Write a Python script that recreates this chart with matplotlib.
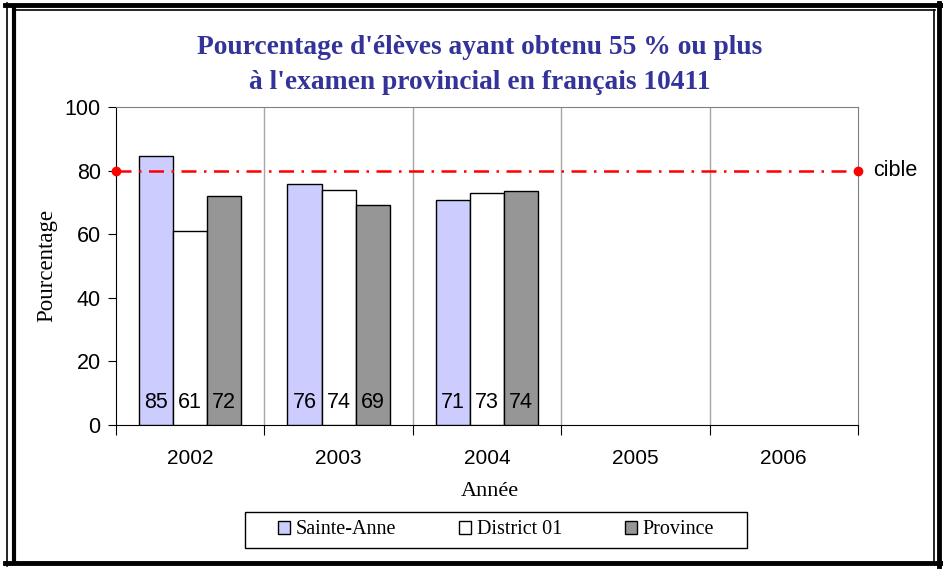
import numpy as np
import matplotlib
matplotlib.use("Agg")
import matplotlib.pyplot as plt
from matplotlib.patches import Rectangle, Patch
from matplotlib.lines import Line2D
from matplotlib.ticker import FixedLocator

# data
years = ["2002", "2003", "2004", "2005", "2006"]
sainte_anne = [84.6, 75.9, 70.6]
district = [61.1, 73.9, 73.1]
province = [71.9, 69.1, 73.6]
series_names = ["Sainte-Anne", "District 01", "Province"]
cible = 80

serif = "Liberation Serif"
sans = "Liberation Sans"

fig = plt.figure(figsize=(9.43, 5.69), dpi=100)
W, H = 943, 569


def frame_line(x0, y0, x1, y1, lw):
    # pixel coords, origin top-left
    fig.add_artist(Line2D([x0 / W, x1 / W], [1 - y0 / H, 1 - y1 / H],
                          transform=fig.transFigure, color="black", linewidth=lw))


# double border around the chart
frame_line(7, 3, 7, 566, 1.2)
frame_line(13.5, 9, 13.5, 563, 3)
frame_line(5, 4.5, 941, 4.5, 3.5)
frame_line(13, 10, 935, 10, 1.2)
frame_line(934, 10, 934, 562, 1.2)
frame_line(939, 3, 939, 566, 3.5)
frame_line(5, 563, 941, 563, 3.5)

ax = fig.add_axes([116 / W, 1 - 425 / H, 742 / W, 318 / H])

x = np.arange(len(sainte_anne))
bw = 0.23
colors = ["#ccccff", "white", "#969696"]
for i, vals in enumerate([sainte_anne, district, province]):
    xs = x + (i - 1) * bw
    ax.bar(xs, vals, width=bw, color=colors[i], edgecolor="black", linewidth=1.0,
           label=series_names[i], zorder=3)
    for xx, v in zip(xs, vals):
        ax.text(xx, 7, f"{v:.0f}", ha="center", va="center", fontsize=15.5,
                family=sans, zorder=4)

# target line
ax.plot([-0.5, len(years) - 0.5], [cible, cible], color="red", linestyle=(0, (6, 3, 1, 3)),
        linewidth=1.8, marker="o", markersize=6, clip_on=False, zorder=5)
ax.text(len(years) - 0.5 + 0.1, cible, "cible", ha="left", va="center", fontsize=15.5,
        family=sans)

ax.set_xlim(-0.5, len(years) - 0.5)
ax.set_ylim(0, 100)
ax.set_yticks(np.arange(0, 101, 20))
ax.tick_params(axis="y", direction="out", length=6, labelsize=15.5, pad=5)
for lab in ax.get_yticklabels():
    lab.set_family(sans)

ax.xaxis.set_major_locator(FixedLocator(np.arange(-0.5, len(years), 1)))
ax.xaxis.set_minor_locator(FixedLocator(np.arange(len(years))))
ax.set_xticklabels([], minor=False)
ax.set_xticklabels(years, minor=True, family=sans, fontsize=15)
ax.tick_params(axis="x", which="major", direction="out", length=7)
ax.tick_params(axis="x", which="minor", length=0, pad=17)

for b in np.arange(0.5, len(years) - 1, 1):
    ax.axvline(b, color="#a6a6a6", linewidth=1, zorder=1)
ax.spines["top"].set_color("#808080")
ax.spines["right"].set_color("#808080")

fig.text(480 / W, 1 - 48 / H, "Pourcentage d'élèves ayant obtenu 55 % ou plus",
         ha="center", va="center", fontsize=19.8, fontweight="bold", family=serif, color="#333399")
fig.text(480 / W, 1 - 83 / H, "à l'examen provincial en français 10411",
         ha="center", va="center", fontsize=19.8, fontweight="bold", family=serif, color="#333399")

fig.text(47 / W, 1 - 265 / H, "Pourcentage", rotation=90, ha="center", va="center",
         fontsize=16.5, family=serif)
fig.text(490 / W, 1 - 492 / H, "Année", ha="center", va="center", fontsize=16, family=serif)

# legend box
fig.patches.append(Rectangle((245 / W, 1 - 548 / H), 502 / W, 36 / H, transform=fig.transFigure,
                             fill=False, edgecolor="black", linewidth=1.0))
handles = [Patch(facecolor=c, edgecolor="black", linewidth=1.0) for c in colors]
fig.legend(handles, series_names, loc="center", bbox_to_anchor=(496 / W, 1 - 530 / H), ncol=3,
           prop={"family": serif, "size": 14.5}, frameon=False,
           handlelength=0.6, handleheight=0.6, handletextpad=0.3, columnspacing=3.1)

fig.savefig("out.png", dpi=100)
